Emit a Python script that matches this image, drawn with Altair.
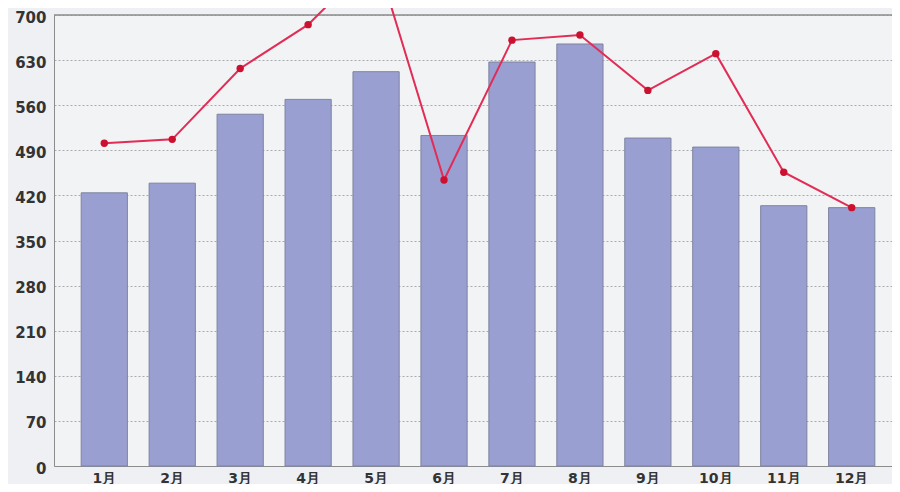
import altair as alt
import pandas as pd

months = ["1月", "2月", "3月", "4月", "5月", "6月", "7月", "8月", "9月", "10月", "11月", "12月"]
bar_values = [424, 439, 546, 569, 612, 513, 627, 655, 509, 495, 404, 401]
line_values = [501, 507, 617, 685, 790, 444, 661, 669, 583, 640, 456, 401]
y_ticks = [0, 70, 140, 210, 280, 350, 420, 490, 560, 630, 700]

df = pd.DataFrame({"month": months, "bar": bar_values, "line": line_values})

x = alt.X("month:N", sort=months, title=None,
          scale=alt.Scale(paddingInner=0.32, paddingOuter=0.4, range=[0, 848]),
          axis=alt.Axis(labelAngle=0, labelFontSize=14, labelFont="DejaVu Sans",
                        labelFontWeight="bold", labelColor="#333333", ticks=False,
                        domainColor="#8c8c8c", labelPadding=5, grid=False))
y_scale = alt.Scale(domain=[0, 700], nice=False, clamp=False)
y_axis = alt.Axis(values=y_ticks, labelFontSize=15, labelFont="DejaVu Sans",
                  labelFontWeight="bold", labelColor="#333333", ticks=False,
                  domainColor="#8c8c8c", labelPadding=8, labelOffset=2, grid=True,
                  gridColor="#a9abb0", gridDash=[2, 2], gridWidth=1)

bars = alt.Chart(df).mark_bar(color="#9a9fd2", stroke="#7e839f", strokeWidth=1).encode(
    x=x,
    y=alt.Y("bar:Q", scale=y_scale, axis=y_axis, title=None),
)

line = alt.Chart(df).mark_line(color="#e22c55", strokeWidth=2).encode(
    x=alt.X("month:N", sort=months),
    y=alt.Y("line:Q", scale=y_scale),
)

points = alt.Chart(df).mark_circle(color="#cc1030", size=55, opacity=1).encode(
    x=alt.X("month:N", sort=months),
    y=alt.Y("line:Q", scale=y_scale),
)

top_rule = alt.Chart(pd.DataFrame({"v": [700]})).mark_rule(color="#8c8c8c", strokeWidth=1.5).encode(
    y=alt.Y("v:Q", scale=y_scale),
    x=alt.value(0), x2=alt.value(848),
)

chart = alt.layer(bars, top_rule, line, points).properties(
    width=838,
    height=451,
    autosize=alt.AutoSizeParams(type="none"),
    padding={"left": 46, "top": 7, "right": 0, "bottom": 18},
    background="#eef0f3",
).configure_view(stroke=None, fill="#f1f3f5")

chart.save("out.html", embed_options={"renderer": "svg", "actions": False})
